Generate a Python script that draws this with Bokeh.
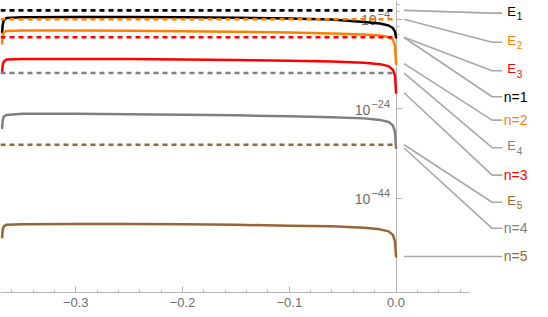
import numpy as np
from bokeh.plotting import figure
from bokeh.models import FixedTicker, Range1d
from bokeh.core.properties import value
from bokeh.embed import file_html
from bokeh.resources import INLINE

# ---- data ----
x_pts = [-0.369, -0.3685, -0.3675, -0.365, -0.35, -0.30, -0.25, -0.20, -0.15,
         -0.10, -0.06, -0.03, -0.015, -0.007, -0.003, -0.001, 0.0]

# log10 of the curves n=1..5
n1_exp = [-6.9, -5.4, -4.26, -3.7, -3.52, -3.48, -3.48, -3.52, -3.63, -3.81,
          -4.04, -4.6, -4.93, -5.38, -5.94, -6.73, -8.07]
n2_exp = [-9.42, -7.85, -6.95, -6.61, -6.50, -6.50, -6.55, -6.66, -6.79, -6.95,
          -7.17, -7.40, -7.62, -7.96, -8.52, -9.87, -13.9]
n3_exp = [-15.92, -14.35, -13.45, -13.0, -12.85, -12.85, -12.89, -12.96, -13.07,
          -13.23, -13.41, -13.68, -14.01, -14.46, -15.25, -16.59, -20.4]
n4_exp = [-28.25, -26.68, -25.78, -25.34, -25.11, -25.11, -25.18, -25.29, -25.45,
          -25.63, -25.85, -26.12, -26.46, -26.91, -27.69, -29.15, -32.74]
n5_exp = [-52.69, -51.12, -50.22, -49.89, -49.78, -49.73, -49.73, -49.78, -49.89,
          -50.07, -50.22, -50.56, -50.9, -51.35, -52.13, -53.59, -56.95]
curves = [n1_exp, n2_exp, n3_exp, n4_exp, n5_exp]

# energy levels E1..E5 (log10)
level_exp = [-2, -4, -8, -16, -32]

colors = ["#000000", "#FF8000", "#FF0000", "#808080", "#996633"]

x_ticks = [-0.3, -0.2, -0.1, 0.0]
x_tick_labels = ["\u22120.3", "\u22120.2", "\u22120.1", "0.0"]
y_tick_exp = [-4, -24, -44]
y_tick_exp_labels = ["\u22124", "\u221224", "\u221244"]

# callout labels: n=1..5 and E1..E5
n_texts = ["n=1", "n=2", "n=3", "n=4", "n=5"]
e_digits = ["1", "2", "3", "4", "5"]
# the point each label refers to (log10 value at x = 0)
n_anchor_exp = [c[-1] for c in curves]
e_anchor_exp = level_exp
# label placement (log10, layout)
n_pos_exp = [-21.3, -26.5, -38.79, -50.67, -56.95]
e_pos_exp = [-2.62, -9.13, -15.47, -32.67, -44.84]

# ---- figure ----
x_lo, x_hi = -0.3705, 0.1353
p = figure(width=540, height=309, x_range=Range1d(x_lo, x_hi),
           y_range=Range1d(1e-65, 10 ** 0.2), y_axis_type="log",
           output_backend="svg", toolbar_location=None,
           min_border_left=0, min_border_right=0, min_border_top=0)
p.grid.visible = False
p.outline_line_color = None
p.background_fill_color = "white"

font = value("Liberation Sans")
axis_gray = "#b5b5b5"
label_gray = "#6e6e6e"

# x axis
p.xaxis.ticker = FixedTicker(ticks=x_ticks,
                             minor_ticks=[round(-0.36 + 0.02 * k, 2) for k in range(22)])
p.xaxis.major_label_overrides = {t: s for t, s in zip(x_ticks, x_tick_labels)}
p.xaxis.bounds = (x_lo, 0.0687)
p.xaxis.axis_line_color = axis_gray
p.xaxis.major_tick_line_color = axis_gray
p.xaxis.minor_tick_line_color = axis_gray
p.xaxis.major_tick_in = 6
p.xaxis.major_tick_out = 0
p.xaxis.minor_tick_in = 3
p.xaxis.minor_tick_out = 0
p.xaxis.major_label_text_color = label_gray
p.xaxis.major_label_text_font = "Liberation Sans"
p.xaxis.major_label_text_font_size = "13px"
p.xaxis.major_label_standoff = 5

# y axis at x = 0 (labels drawn below as text with a raised exponent)
y_major = [10.0 ** e for e in y_tick_exp]
y_minor = [10.0 ** (-4 + k * 5.0 / 3.0) for k in range(-2, 37) if k % 12 != 0]
p.yaxis.fixed_location = 0
p.yaxis.ticker = FixedTicker(ticks=y_major, minor_ticks=y_minor)
p.yaxis.major_label_text_font_size = "0px"
p.yaxis.major_label_text_alpha = 0
p.yaxis.axis_line_color = axis_gray
p.yaxis.major_tick_line_color = axis_gray
p.yaxis.minor_tick_line_color = axis_gray
p.yaxis.major_tick_in = 6
p.yaxis.major_tick_out = 0
p.yaxis.minor_tick_in = 3
p.yaxis.minor_tick_out = 0
p.yaxis.level = "underlay"

exp_font_px = 11
base_font_px = 14
exp_widths = [0.584 * exp_font_px + 0.556 * exp_font_px * (len(s) - 1) for s in y_tick_exp_labels]
p.text(x=[0.0] * 3, y=y_major, text=y_tick_exp_labels, text_color=label_gray,
       text_align="right", text_baseline="middle", text_font=font,
       text_font_size=f"{exp_font_px}px", x_offset=-6, y_offset=-5, level="underlay")
p.text(x=[0.0] * 3, y=y_major, text=["10"] * 3, text_color=label_gray,
       text_align="right", text_baseline="middle", text_font=font,
       text_font_size=f"{base_font_px}px", x_offset=[-7 - w for w in exp_widths],
       y_offset=1, level="underlay")

# curves
for exps, c in zip(curves, colors):
    p.line(x_pts, [10.0 ** e for e in exps], line_color=c, line_width=2.5,
           line_join="round", line_cap="round")

# energy levels
for e, c in zip(level_exp, colors):
    p.line([x_lo, 0.0], [10.0 ** e, 10.0 ** e], line_color=c, line_width=2.6,
           line_dash="5 4")

# callout leaders
lead_x0, lead_x1, lead_x2 = 0.0075, 0.090, 0.0995
anchors = n_anchor_exp + e_anchor_exp
targets = n_pos_exp + e_pos_exp
xs = [[lead_x0, lead_x1, lead_x2] for _ in anchors]
ys = [[10.0 ** a, 10.0 ** b, 10.0 ** b] for a, b in zip(anchors, targets)]
p.multi_line(xs, ys, line_color="#a8a8a8", line_width=1.6, line_join="round")

label_x = 0.112
p.text(x=[label_x] * 5, y=[10.0 ** b for b in n_pos_exp], text=n_texts,
       text_color=colors, text_align="center", text_baseline="middle",
       text_font=font, text_font_size="14px")
p.text(x=[label_x] * 5, y=[10.0 ** b for b in e_pos_exp], text=["E"] * 5,
       text_color=colors, text_align="center", text_baseline="middle",
       text_font=font, text_font_size="13px", x_offset=-4, y_offset=-2)
p.text(x=[label_x] * 5, y=[10.0 ** b for b in e_pos_exp], text=e_digits,
       text_color=colors, text_align="center", text_baseline="middle",
       text_font=font, text_font_size="10px", x_offset=4, y_offset=3)

open("out.html", "w").write(file_html(p, INLINE))
